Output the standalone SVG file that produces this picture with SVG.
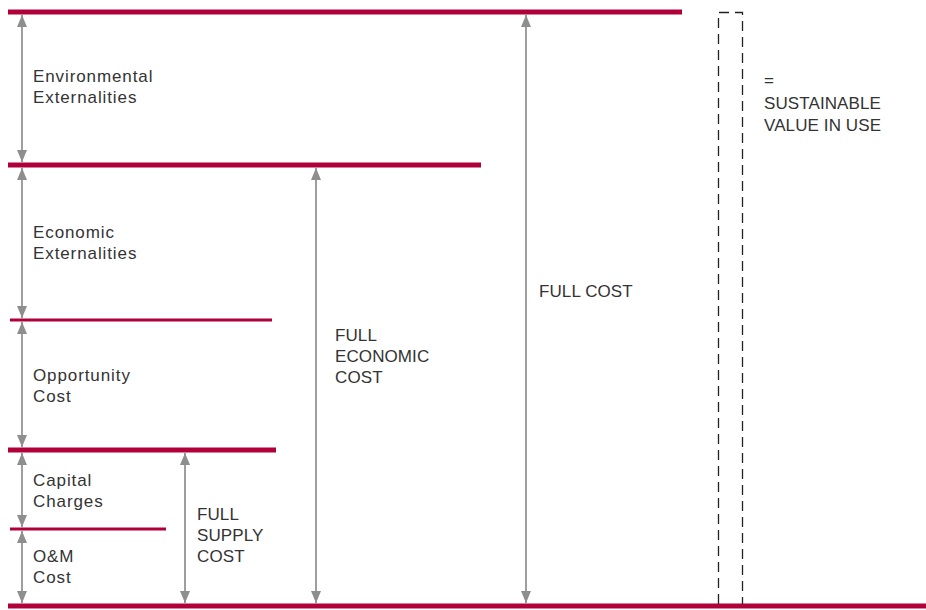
<svg xmlns="http://www.w3.org/2000/svg" width="926" height="610" viewBox="0 0 926 610">
<style>
.bar{stroke:#b0003a;stroke-linecap:butt}
.thick{stroke-width:5}
.thin{stroke-width:3}
.dim{stroke:#6b6b6b;stroke-width:1.3;fill:none}
.t{font-family:"Liberation Sans",Arial,sans-serif;font-size:17px;fill:#333;letter-spacing:0.9px}
.u{font-family:"Liberation Sans",Arial,sans-serif;font-size:17px;fill:#333;letter-spacing:0.1px}
.dash{fill:none;stroke:#222;stroke-width:1.3;stroke-dasharray:10,6}
</style>
<defs>
<marker id="ah" viewBox="0 0 12 10" refX="12" refY="5" markerWidth="12" markerHeight="10" markerUnits="userSpaceOnUse" orient="auto-start-reverse">
<path d="M0,0 L12,5 L0,10 Z" fill="#8e8e8e"/>
</marker>
</defs>
<g id="levels">
<line class="bar thick" x1="8" y1="12" x2="682" y2="12"/>
<line class="bar thick" x1="8" y1="165" x2="481" y2="165"/>
<line class="bar thin" x1="10" y1="320" x2="272" y2="320"/>
<line class="bar thick" x1="8" y1="450" x2="276" y2="450"/>
<line class="bar thin" x1="10" y1="529" x2="166" y2="529"/>
<line class="bar thick" x1="8" y1="606" x2="926" y2="606"/>
</g>
<g id="connectors">
<line class="dim" x1="22" y1="15" x2="22" y2="162" marker-start="url(#ah)" marker-end="url(#ah)"/>
<line class="dim" x1="22" y1="168" x2="22" y2="318" marker-start="url(#ah)" marker-end="url(#ah)"/>
<line class="dim" x1="22" y1="322" x2="22" y2="447" marker-start="url(#ah)" marker-end="url(#ah)"/>
<line class="dim" x1="22" y1="453" x2="22" y2="527" marker-start="url(#ah)" marker-end="url(#ah)"/>
<line class="dim" x1="22" y1="531" x2="22" y2="603" marker-start="url(#ah)" marker-end="url(#ah)"/>
<line class="dim" x1="185" y1="453" x2="185" y2="603" marker-start="url(#ah)" marker-end="url(#ah)"/>
<line class="dim" x1="316" y1="168" x2="316" y2="603" marker-start="url(#ah)" marker-end="url(#ah)"/>
<line class="dim" x1="526" y1="15" x2="526" y2="603" marker-start="url(#ah)" marker-end="url(#ah)"/>
</g>
<g id="sustainable-box">
<path class="dash" d="M718.5,604 L718.5,12.5 L742.5,12.5 L742.5,604"/>
</g>
<g id="labels">
<text class="t" x="33" y="82">Environmental</text>
<text class="t" x="33" y="103">Externalities</text>
<text class="t" x="33" y="238">Economic</text>
<text class="t" x="33" y="259">Externalities</text>
<text class="t" x="33" y="381">Opportunity</text>
<text class="t" x="33" y="402">Cost</text>
<text class="t" x="33" y="486">Capital</text>
<text class="t" x="33" y="507">Charges</text>
<text class="t" x="33" y="562">O&amp;M</text>
<text class="t" x="33" y="583">Cost</text>
<text class="u" x="197" y="520">FULL</text>
<text class="u" x="197" y="541">SUPPLY</text>
<text class="u" x="197" y="562">COST</text>
<text class="u" x="335" y="341">FULL</text>
<text class="u" x="335" y="362">ECONOMIC</text>
<text class="u" x="335" y="383">COST</text>
<text class="u" x="539" y="297">FULL COST</text>
<text class="u" x="764" y="86">=</text>
<text class="u" x="764" y="109">SUSTAINABLE</text>
<text class="u" x="764" y="131">VALUE IN USE</text>
</g>
</svg>
